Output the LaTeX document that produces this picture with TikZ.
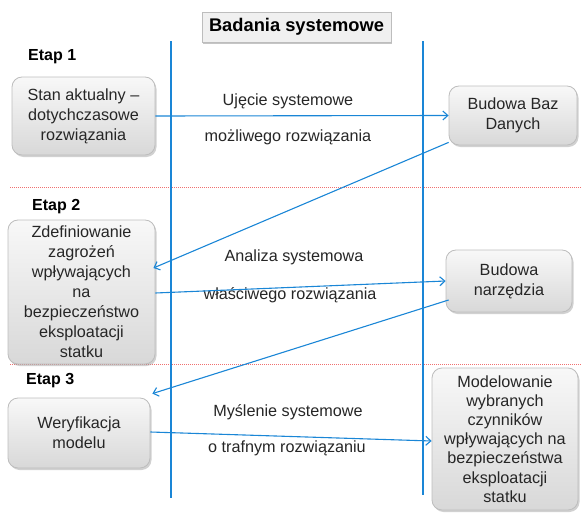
\documentclass[tikz,border=0pt]{standalone}
\usepackage{fontspec}
\setmainfont{Liberation Sans}
\usetikzlibrary{arrows.meta,shadows,calc}
\definecolor{lineblue}{HTML}{1A86D6}
\definecolor{boxborder}{HTML}{BDBDBD}
\definecolor{boxtop}{HTML}{F8F8F8}
\definecolor{boxbot}{HTML}{D8D8D8}
\definecolor{dotred}{HTML}{F07070}
\tikzset{
  procbox/.style={draw=boxborder, line width=0.8pt, rounded corners=10pt,
    top color=boxtop, bottom color=boxbot, align=center, inner sep=0pt,
    font=\fontsize{16.2}{20}\selectfont, text=black!85,
    drop shadow={shadow xshift=1.5pt, shadow yshift=-2pt, fill=black!40, opacity=0.45}},
  titlebox/.style={draw=boxborder, line width=0.8pt, fill=black!6, inner sep=0pt,
    font=\bfseries\fontsize{18.3}{21}\selectfont,
    drop shadow={shadow xshift=1pt, shadow yshift=-2pt, fill=black!45, opacity=0.5}},
  etap/.style={anchor=west, font=\bfseries\fontsize{16}{18}\selectfont, inner sep=0pt},
  midlabel/.style={font=\fontsize{16.2}{18}\selectfont, text=black!85, inner sep=0pt},
  flow/.style={draw=lineblue, line width=1.1pt, -{Straight Barb[length=5pt,width=9pt]}},
  vline/.style={draw=lineblue, line width=1.1pt},
  sepline/.style={draw=dotred, line width=1pt, dash pattern=on 1pt off 1pt}
}
\begin{document}
\begin{tikzpicture}[x=1pt,y=-1pt]
\useasboundingbox (0,0) rectangle (582,514);
% separators
\coordinate (s1a) at (10,187); \coordinate (s1b) at (582,187);
\coordinate (s2a) at (10,364); \coordinate (s2b) at (582,364);
\draw[sepline] (s1a) -- (s1b);
\draw[sepline] (s2a) -- (s2b);
% vertical lines
\coordinate (v1t) at (171,41); \coordinate (v1b) at (171,498);
\coordinate (v2t) at (423,41); \coordinate (v2b) at (423,495);
\draw[vline] (v1t) -- (v1b);
\draw[vline] (v2t) -- (v2b);
% title
\node[titlebox, minimum width=189pt, minimum height=30pt] (title) at (296.5,27) {Badania systemowe};
% etaps
\node[etap] (e1) at (28,56.5) {Etap 1};
\node[etap] (e2) at (32,207) {Etap 2};
\node[etap] (e3) at (26,381) {Etap 3};
% boxes
\node[procbox, minimum width=143pt, minimum height=78pt] (b1) at (83.5,116) {Stan aktualny --\\dotychczasowe\\rozwiązania};
\node[procbox, minimum width=128pt, minimum height=59pt] (baz) at (513,115.5) {Budowa Baz\\Danych};
\node[procbox, minimum width=147pt, minimum height=144pt] (zdef) at (81.5,292) {Zdefiniowanie\\zagrożeń\\wpływających\\na\\bezpieczeństwo\\eksploatacji\\statku};
\node[procbox, minimum width=126pt, minimum height=62pt] (narz) at (509,281) {Budowa\\narzędzia};
\node[procbox, minimum width=142pt, minimum height=70pt] (wer) at (79,433) {Weryfikacja\\modelu};
\node[procbox, minimum width=146pt, minimum height=142pt, font=\fontsize{16.2}{19.2}\selectfont] (model) at (505,439) {Modelowanie\\wybranych\\czynników\\wpływających na\\bezpieczeństwa\\eksploatacji\\statku};
% labels
\node[midlabel] (l1a) at (288,101) {Ujęcie systemowe};
\node[midlabel] (l1b) at (288,137) {możliwego rozwiązania};
\node[midlabel] (l2a) at (294,257) {Analiza systemowa};
\node[midlabel] (l2b) at (290,295) {właściwego rozwiązania};
\node[midlabel] (l3a) at (288,412) {Myślenie systemowe};
\node[midlabel] (l3b) at (287,448) {o trafnym rozwiązaniu};
% arrows
\draw[flow] (b1.east) -- (baz.west);
\draw[flow] ($(baz.south west)+(0,-3)$) -- ($(zdef.east)+(-2,-24)$);
\draw[flow] ($(zdef.east)+(0,1)$) -- (narz.west);
\draw[flow] ($(narz.west)+(3,19)$) -- ($(wer.north east)+(2,-4)$);
\draw[flow] ($(wer.east)+(0,-1)$) -- ($(model.west)+(0,2)$);
\end{tikzpicture}
\end{document}
